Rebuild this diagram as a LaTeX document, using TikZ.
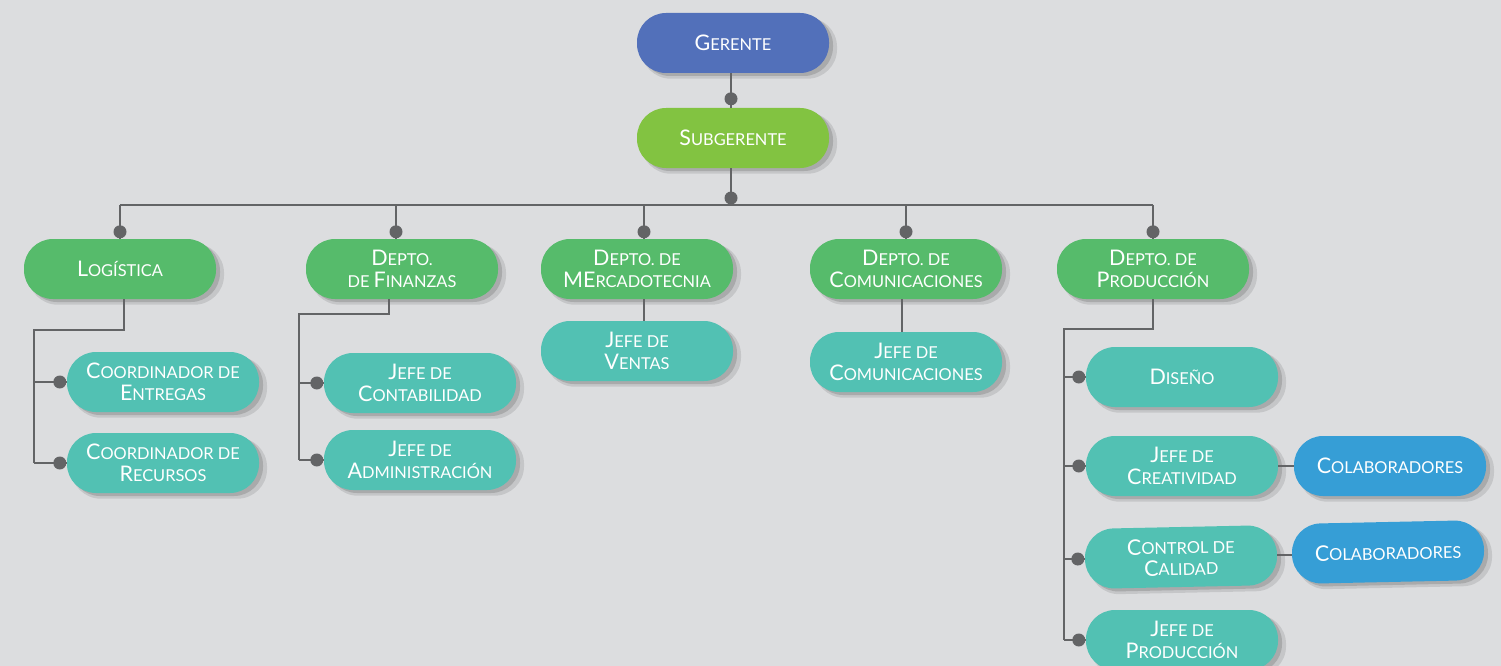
\documentclass[tikz,border=0pt]{standalone}
\usepackage{fontspec}
\setmainfont{Lato}
\usetikzlibrary{shadows}

\definecolor{fondo}{HTML}{DCDDDF}
\definecolor{cgerente}{HTML}{5270BA}
\definecolor{csubger}{HTML}{82C341}
\definecolor{cdepto}{HTML}{56BB6B}
\definecolor{cjefe}{HTML}{52C1B3}
\definecolor{ccolab}{HTML}{369ED6}
\definecolor{clinea}{HTML}{636466}

% initial letter of the small caps labels
\newcommand\ini[1]{{\fontsize{21.5}{22}\selectfont #1}}

\tikzset{
  sombra/.style={drop shadow={shadow xshift=6pt,shadow yshift=-5pt,opacity=.10,fill=black,shadow scale=1.02},
                 drop shadow={shadow xshift=4pt,shadow yshift=-3pt,opacity=.14,fill=black}},
  caja/.style={rectangle,rounded corners=29pt,minimum width=192pt,minimum height=60pt,
               inner sep=0pt,align=center,text=white,font=\fontsize{16.4}{21.5}\selectfont,sombra},
  gerente/.style={caja,fill=cgerente},
  subger/.style={caja,fill=csubger},
  depto/.style={caja,fill=cdepto},
  jefe/.style={caja,fill=cjefe},
  colab/.style={caja,fill=ccolab},
  linea/.style={draw=clinea,line width=2pt},
  punto/.style={circle,fill=clinea,inner sep=0pt,minimum size=13pt}
}

\begin{document}
\begin{tikzpicture}[x=1pt,y=-1pt]
  \useasboundingbox (0,0) rectangle (1501,666);
  \clip (0,0) rectangle (1501,666);
  \fill[fondo] (0,0) rectangle (1501,666);

  % top levels
  \node[gerente] (ger) at (733,43) {\ini{G}ERENTE};
  \node[subger] (sub) at (733,138) {\ini{S}UBGERENTE};

  % departments
  \node[depto] (log) at (120,269) {\ini{L}OGÍSTICA};
  \node[depto] (fin) at (402,269) {\ini{D}EPTO.\\DE \ini{F}INANZAS};
  \node[depto] (mer) at (637,269) {\ini{D}EPTO. DE\\\ini{ME}RCADOTECNIA};
  \node[depto] (com) at (906,269) {\ini{D}EPTO. DE\\\ini{C}OMUNICACIONES};
  \node[depto] (pro) at (1153,269) {\ini{D}EPTO. DE\\\ini{P}RODUCCIÓN};

  % second level
  \node[jefe] (ent) at (163,382) {\ini{C}OORDINADOR DE\\\ini{E}NTREGAS};
  \node[jefe] (rec) at (163,463) {\ini{C}OORDINADOR DE\\\ini{R}ECURSOS};
  \node[jefe] (cont) at (420,383) {\ini{J}EFE DE\\\ini{C}ONTABILIDAD};
  \node[jefe] (adm) at (420,460) {\ini{J}EFE DE\\\ini{A}DMINISTRACIÓN};
  \node[jefe] (ven) at (637,351) {\ini{J}EFE DE\\\ini{V}ENTAS};
  \node[jefe] (jcom) at (906,362) {\ini{J}EFE DE\\\ini{C}OMUNICACIONES};
  \node[jefe] (dis) at (1182,377) {\ini{D}ISEÑO};
  \node[jefe] (cre) at (1182,466) {\ini{J}EFE DE\\\ini{C}REATIVIDAD};
  \node[jefe,rotate=1.2] (cal) at (1181,557) {\ini{C}ONTROL DE\\\ini{C}ALIDAD};
  \node[jefe] (jpro) at (1182,640) {\ini{J}EFE DE\\\ini{P}RODUCCIÓN};
  \node[colab] (col1) at (1390,466) {\ini{C}OLABORADORES};
  \node[colab,rotate=1.2] (col2) at (1388,552) {\ini{C}OLABORADORES};

  % connectors
  \coordinate (bus) at (731,205);
  \draw[linea] ([xshift=-2pt]ger.south) -- ([xshift=-2pt]sub.north);
  \node[punto] (p0) at ([xshift=-2pt,yshift=9pt]sub.north) {};
  \draw[linea] ([xshift=-2pt]sub.south) -- (bus);
  \node[punto] (p1) at ([yshift=7pt]bus) {};
  \draw[linea] (log.north |- bus) -- (pro.north |- bus);
  \foreach \d/\s in {log/0,fin/-6,mer/7,com/0,pro/0}{
    \draw[linea] ([xshift=\s pt]\d.north |- bus) -- ([xshift=\s pt]\d.north);
    \node[punto] (p\d) at ([xshift=\s pt,yshift=7pt]\d.north) {};
  }

  % logistica
  \coordinate (lbar) at (34,330);
  \draw[linea] ([xshift=4pt]log.south) |- (lbar) -- (lbar |- rec.west);
  % finanzas
  \coordinate (fbar) at (299,314);
  \draw[linea] ([xshift=-13pt]fin.south) |- (fbar) -- (fbar |- adm.west);
  % produccion
  \coordinate (pbar) at (1064,329);
  \draw[linea] (pro.south) |- (pbar) -- (pbar |- jpro.west);
  \foreach \b/\n in {lbar/ent,lbar/rec,fbar/cont,fbar/adm,pbar/dis,pbar/cre,pbar/cal,pbar/jpro}{
    \draw[linea] (\b |- \n.west) -- (\n.west);
    \node[punto] (q\n) at ([xshift=-7pt]\n.west) {};
  }

  \draw[linea] ([xshift=7pt]mer.south) -- ([xshift=7pt]ven.north);
  \draw[linea] ([xshift=-4pt]com.south) -- ([xshift=-4pt]jcom.north);
  \draw[linea] (cre.east) -- (col1.west);
  \draw[linea] (cal.east) -- (cal.east -| col2.west);
\end{tikzpicture}
\end{document}
